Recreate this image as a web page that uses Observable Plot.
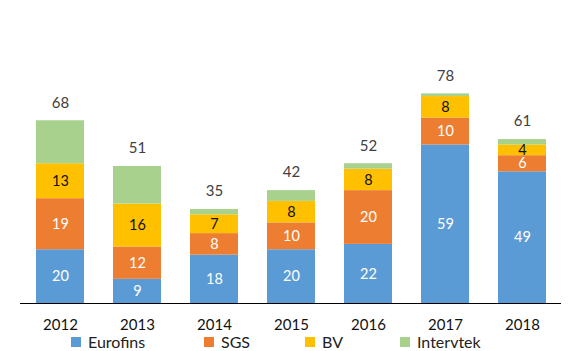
<!DOCTYPE html>
<html>
<head>
<meta charset="utf-8">
<script src="https://cdn.jsdelivr.net/npm/d3@7"></script>
<script src="https://cdn.jsdelivr.net/npm/@observablehq/plot@0.6"></script>
<style>
  html, body { margin: 0; padding: 0; background: #fff; }
  #chart { width: 571px; height: 351px; position: relative; font-family: Lato, "Open Sans", sans-serif; }
  #legend { position: absolute; top: 334px; left: 0; width: 571px; height: 16px; font-size: 16px; line-height: 16px; color: #222; }
  .item { position: absolute; top: 0; display: flex; align-items: center; height: 16px; }
  .sw { width: 10px; height: 10px; margin-right: 7px; }
</style>
</head>
<body>
<div id="chart"></div>
<script>
const years = ["2012", "2013", "2014", "2015", "2016", "2017", "2018"];
const eurofins = [20, 9, 18, 20, 22, 59, 49];
const sgs = [19, 12, 8, 10, 20, 10, 6];
const bv = [13, 16, 7, 8, 8, 8, 4];
const intervtek = [16, 14, 2, 4, 2, 1, 2];
const totals = [68, 51, 35, 42, 52, 78, 61];
const seriesNames = ["Eurofins", "SGS", "BV", "Intervtek"];
const seriesColors = ["#5B9BD5", "#ED7D31", "#FFC000", "#A9D18E"];
const labelColors = ["#ffffff", "#ffffff", "#111111", null];

const seriesValues = [eurofins, sgs, bv, intervtek];
const data = [];
seriesNames.forEach((s, si) => {
  years.forEach((y, yi) => {
    data.push({year: y, series: s, value: seriesValues[si][yi], si});
  });
});
const totalData = years.map((y, i) => ({year: y, total: totals[i]}));

const stackOpts = {x: "year", y: "value", z: "series", order: seriesNames};

const plot = Plot.plot({
  width: 571,
  height: 351,
  marginLeft: 20,
  marginRight: 10,
  marginTop: 88,
  marginBottom: 48,
  style: {fontFamily: "Lato, 'Open Sans', sans-serif", fontSize: "15px", background: "#fff"},
  x: {domain: years, paddingInner: 0.38, paddingOuter: 0.19, label: null},
  y: {domain: [0, 80], axis: null},
  color: {domain: seriesNames, range: seriesColors},
  marks: [
    Plot.barY(data, Plot.stackY({...stackOpts, fill: "series"})),
    ...[0, 1, 2].map(si =>
      Plot.text(data, Plot.stackY({
        ...stackOpts,
        text: d => d.si === si ? String(d.value) : null,
        fill: labelColors[si],
        fontSize: 14.5
      }))
    ),
    Plot.text(totalData, {x: "year", y: "total", text: d => String(d.total), dy: -18, fill: "#404040", fontSize: 15}),
    Plot.ruleY([0], {stroke: "#000", strokeWidth: 1.2}),
    Plot.axisX({tickSize: 0, tickPadding: 16, fontSize: 15, fill: "#111", label: null})
  ]
});
plot.style.position = "absolute";
plot.style.top = "0";
plot.style.left = "0";
document.getElementById("chart").appendChild(plot);

const legend = document.createElement("div");
legend.id = "legend";
const lx = [71, 204, 305, 400];
seriesNames.forEach((s, i) => {
  const it = document.createElement("div");
  it.className = "item";
  it.style.left = lx[i] + "px";
  const sw = document.createElement("span");
  sw.className = "sw";
  sw.style.background = seriesColors[i];
  const t = document.createElement("span");
  t.textContent = s;
  it.appendChild(sw);
  it.appendChild(t);
  legend.appendChild(it);
});
document.getElementById("chart").appendChild(legend);
</script>
</body>
</html>
